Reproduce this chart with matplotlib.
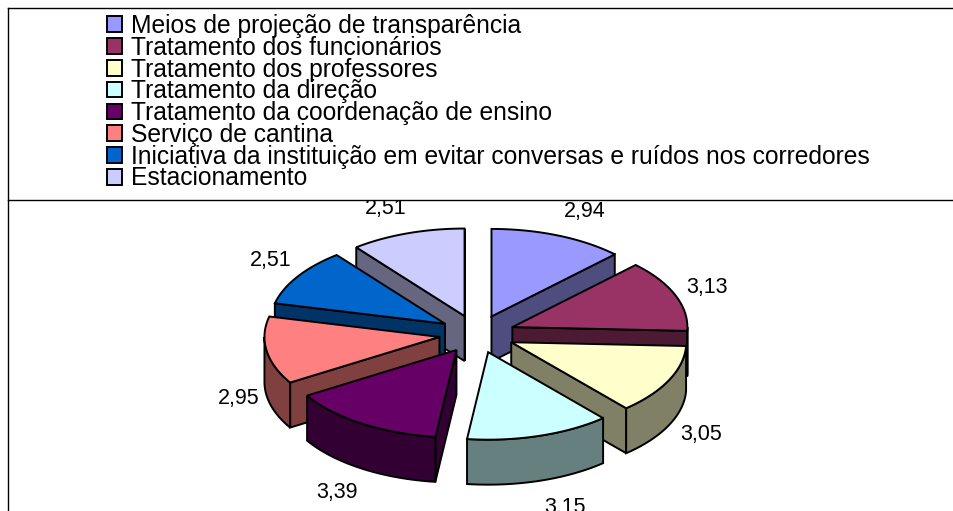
import numpy as np
import matplotlib
matplotlib.use("Agg")
import matplotlib.pyplot as plt
from matplotlib.patches import Patch, Polygon

plt.rcParams['font.family'] = ['Liberation Sans', 'DejaVu Sans']

labels = ["Meios de projeção de transparência", "Tratamento dos funcionários",
          "Tratamento dos professores", "Tratamento da direção",
          "Tratamento da coordenação de ensino", "Serviço de cantina",
          "Iniciativa da instituição em evitar conversas e ruídos nos corredores",
          "Estacionamento"]
values = [2.94, 3.13, 3.05, 3.15, 3.39, 2.95, 2.51, 2.51]
top_colors = ["#9999FF", "#993366", "#FFFFCC", "#CCFFFF", "#660066", "#FF8080", "#0066CC", "#CCCCFF"]
side_colors = ["#4D4D80", "#4D1A33", "#808066", "#668080", "#330033", "#804040", "#003366", "#666680"]

# pie geometry, in pixels of the figure
W, H = 954, 511
cx, cy = 477, 334
rx, squash = 175, 0.5
explode = 38
depth = 45
lw = 1.4
label_r = 255
# small nudges for the value labels
label_dx = [11, -7, -6, 13, -2, 14, 8, -8]
label_dy = [-5, 0, 0, 7, 6, 0, -5, -5]


def project(theta, r):
    # theta in degrees, clockwise from the top
    t = np.radians(theta)
    return r * np.sin(t), -r * squash * np.cos(t)


fig = plt.figure(figsize=(W / 100, H / 100), dpi=100)
ax = fig.add_axes([0, 0, 1, (H - 200) / H])
ax.set_xlim(0, W)
ax.set_ylim(H, 200)
ax.axis("off")

shares = np.array(values) / sum(values) * 360
ends = np.cumsum(shares)
starts = ends - shares
mids = (starts + ends) / 2

# back slices first, so the front ones cover them
order = np.argsort(-np.cos(np.radians(mids)))
for i in order:
    ox, oy = project(mids[i], explode)
    ax_, ay_ = cx + ox, cy + oy
    th = np.linspace(starts[i], ends[i], 60)
    px, py = project(th, rx)
    px, py = px + ax_, py + ay_

    # radial side walls
    if np.sin(np.radians(ends[i])) > 0:
        wall = [(ax_, ay_), (px[-1], py[-1]), (px[-1], py[-1] + depth), (ax_, ay_ + depth)]
        ax.add_patch(Polygon(wall, fc=side_colors[i], ec="black", lw=lw))
    if np.sin(np.radians(starts[i])) < 0:
        wall = [(ax_, ay_), (px[0], py[0]), (px[0], py[0] + depth), (ax_, ay_ + depth)]
        ax.add_patch(Polygon(wall, fc=side_colors[i], ec="black", lw=lw))
    # outer wall, only the part that faces us
    a, b = max(starts[i], 90), min(ends[i], 270)
    if b > a:
        th2 = np.linspace(a, b, 60)
        qx, qy = project(th2, rx)
        qx, qy = qx + ax_, qy + ay_
        pts = np.r_[np.c_[qx, qy], np.c_[qx[::-1], qy[::-1] + depth]]
        ax.add_patch(Polygon(pts, fc=side_colors[i], ec="black", lw=lw))
    # top face
    pts = np.r_[[[ax_, ay_]], np.c_[px, py]]
    ax.add_patch(Polygon(pts, fc=top_colors[i], ec="black", lw=lw, joinstyle="miter"))

for i, v in enumerate(values):
    lx, ly = project(mids[i], label_r)
    if np.cos(np.radians(mids[i])) < 0:
        ly += depth
    ax.text(cx + lx + label_dx[i], cy + ly + label_dy[i], f"{v:.2f}".replace(".", ","),
            fontsize=15.5, ha="center", va="center", color="black", clip_on=True)

# frame lines
fig.add_artist(plt.Line2D([8 / W, 1], [1 - 8 / H, 1 - 8 / H], color="black", lw=1))
fig.add_artist(plt.Line2D([8 / W, 1], [1 - 200 / H, 1 - 200 / H], color="black", lw=1))
fig.add_artist(plt.Line2D([8 / W, 8 / W], [0, 1 - 8 / H], color="black", lw=1))

handles = [Patch(fc=c, ec="black", lw=1.4) for c in top_colors]
fig.legend(handles, labels, loc="upper left", bbox_to_anchor=(107 / W, 1 - 14 / H),
           borderaxespad=0, borderpad=0, frameon=False, fontsize=17.75,
           labelspacing=-0.09, handlelength=0.6, handleheight=0.6, handletextpad=0.36)

fig.savefig("out.png", dpi=100)
